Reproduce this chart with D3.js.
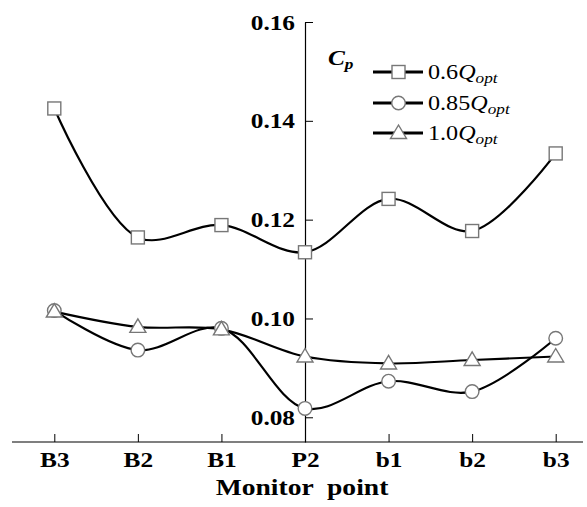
<!DOCTYPE html>
<html>
<head>
<meta charset="utf-8">
<script src="https://cdn.jsdelivr.net/npm/d3@7"></script>
<style>
  html, body { margin: 0; padding: 0; background: #fff; }
  svg { display: block; }
  text { font-family: "Liberation Serif", "Times New Roman", serif; fill: #000; }
</style>
</head>
<body>
<svg id="chart" width="587" height="507"></svg>
<script>
const categories = ["B3", "B2", "B1", "P2", "b1", "b2", "b3"];
const q06  = [0.1425, 0.1164, 0.1189, 0.1134, 0.1242, 0.1177, 0.1334];
const q085 = [0.1016, 0.0936, 0.0980, 0.0818, 0.0873, 0.0852, 0.0960];
const q10  = [0.1014, 0.0983, 0.0978, 0.0923, 0.0909, 0.0916, 0.0923];
const yTicks = [0.08, 0.10, 0.12, 0.14, 0.16];
const seriesNames = ["0.6", "0.85", "1.0"];
const seriesMarkers = ["square", "circle", "triangle"];

const svg = d3.select("#chart");
const SX = 1.15; // horizontal text stretch of the original

const x = d3.scalePoint().domain(categories).range([54.3, 555.7]);
const y = d3.scaleLinear().domain([0.075, 0.16]).range([442, 22]);

// x axis baseline (extends beyond category range)
svg.append("line")
  .attr("x1", 12).attr("x2", 583)
  .attr("y1", y(0.075)).attr("y2", y(0.075))
  .attr("stroke", "#000").attr("stroke-width", 1.2);

const xAxis = svg.append("g")
  .attr("transform", `translate(0,${y(0.075)})`)
  .call(d3.axisBottom(x).tickSizeInner(-8).tickSizeOuter(0));
xAxis.select(".domain").remove();
xAxis.selectAll(".tick line").attr("stroke", "#000").attr("stroke-width", 1);
xAxis.selectAll(".tick text")
  .attr("y", 25).attr("dy", null)
  .attr("transform", `scale(${SX},1)`)
  .style("font-size", "22px").style("font-weight", "bold")
  .style("font-family", "'Liberation Serif', serif")
  .attr("fill", "#000");

const yAxis = svg.append("g")
  .attr("transform", `translate(${x("P2")},0)`)
  .call(d3.axisLeft(y).tickValues(yTicks).tickFormat(d3.format(".2f"))
        .tickSizeInner(-8).tickSizeOuter(0).tickPadding(10));
yAxis.select(".domain").attr("stroke", "#000").attr("stroke-width", 1.2);
yAxis.selectAll(".tick line").attr("stroke", "#000").attr("stroke-width", 1);
yAxis.selectAll(".tick text")
  .attr("x", -10 / SX)
  .attr("transform", `scale(${SX},1)`)
  .style("font-size", "22px").style("font-weight", "bold")
  .style("font-family", "'Liberation Serif', serif")
  .attr("fill", "#000");

// x axis title
svg.append("text")
  .attr("transform", `translate(302,495) scale(${SX},1)`)
  .attr("text-anchor", "middle")
  .style("font-size", "24px").style("font-weight", "bold")
  .style("white-space", "pre")
  .text("Monitor  point");

// Cp label
const cp = svg.append("text")
  .attr("transform", `translate(328,65) scale(${SX},1)`)
  .style("font-weight", "bold").style("font-style", "italic");
cp.append("tspan").style("font-size", "22px").text("C");
cp.append("tspan").style("font-size", "15px").attr("dy", 4).text("p");

// markers
function drawMarker(g, type, cx, cy) {
  const st = { fill: "#fff", stroke: "#777", sw: 1.4 };
  if (type === "square") {
    g.append("rect").attr("x", cx - 6.5).attr("y", cy - 6.5)
      .attr("width", 13).attr("height", 13)
      .attr("fill", st.fill).attr("stroke", st.stroke).attr("stroke-width", st.sw);
  } else if (type === "circle") {
    g.append("circle").attr("cx", cx).attr("cy", cy).attr("r", 6.8)
      .attr("fill", st.fill).attr("stroke", st.stroke).attr("stroke-width", st.sw);
  } else {
    g.append("path")
      .attr("d", `M${cx},${cy - 8} L${cx + 8},${cy + 5.5} L${cx - 8},${cy + 5.5} Z`)
      .attr("fill", st.fill).attr("stroke", st.stroke).attr("stroke-width", st.sw);
  }
}

const allSeries = [q06, q085, q10];
const line = d3.line()
  .x((d, i) => x(categories[i]))
  .y(d => y(d))
  .curve(d3.curveCatmullRom.alpha(0.5));

const linesG = svg.append("g");
allSeries.forEach(s => {
  linesG.append("path").datum(s)
    .attr("d", line)
    .attr("fill", "none").attr("stroke", "#000").attr("stroke-width", 2.2);
});
const markG = svg.append("g");
allSeries.forEach((s, k) => {
  s.forEach((v, i) => drawMarker(markG, seriesMarkers[k], x(categories[i]), y(v)));
});

// legend
const legendY = [72, 103, 133];
const lg = svg.append("g");
seriesNames.forEach((name, k) => {
  const ly = legendY[k];
  lg.append("line").attr("x1", 373).attr("x2", 423).attr("y1", ly).attr("y2", ly)
    .attr("stroke", "#000").attr("stroke-width", 2.8);
  drawMarker(lg, seriesMarkers[k], 398.5, ly);
  const t = lg.append("text")
    .attr("transform", `translate(428,${ly + 7}) scale(${SX},1)`)
    .style("font-size", "21px");
  t.append("tspan").text(name);
  t.append("tspan").style("font-style", "italic").text("Q");
  t.append("tspan").style("font-style", "italic").style("font-size", "15px")
    .attr("dy", 4).text("opt");
});
</script>
</body>
</html>
